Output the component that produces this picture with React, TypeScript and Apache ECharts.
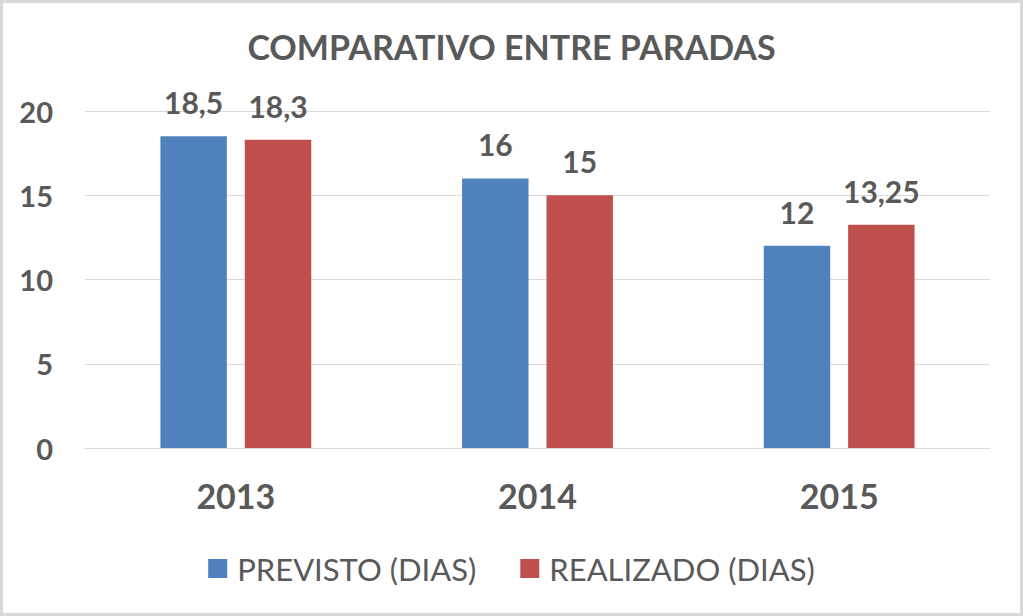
import React, { useEffect, useRef } from "react";
import * as echarts from "echarts";

const categories = ["2013", "2014", "2015"];
const previsto = [18.5, 16, 12];
const realizado = [18.3, 15, 13.25];
const seriesNames = ["PREVISTO (DIAS)", "REALIZADO (DIAS)"];
const yTicks = { min: 0, max: 20, interval: 5 };

const FONT = "Lato";
const TXT = "#595959";

const fmt = (v: number) => String(v).replace(".", ",");

export default function App() {
  const ref = useRef<HTMLDivElement>(null);
  useEffect(() => {
    const chart = echarts.init(ref.current!, null, { renderer: "svg" });
    const label = {
      show: true,
      position: "top",
      distance: 19,
      color: TXT,
      fontFamily: FONT,
      fontWeight: "bold",
      fontSize: 30,
      formatter: (p: any) => fmt(p.value),
    };
    chart.setOption({
      animation: false,
      backgroundColor: "#ffffff",
      textStyle: { fontFamily: FONT },
      title: {
        text: "COMPARATIVO ENTRE PARADAS",
        left: "center",
        top: 24,
        textStyle: { color: TXT, fontFamily: FONT, fontWeight: "bold", fontSize: 34 },
      },
      graphic: [
        {
          type: "rect",
          shape: { x: 1.5, y: 1.5, width: 1020, height: 613 },
          style: { fill: "none", stroke: "#d9d9d9", lineWidth: 3 },
          silent: true,
        },
      ],
      legend: {
        bottom: 27,
        left: "center",
        itemWidth: 19,
        itemHeight: 19,
        itemGap: 44,
        icon: "rect",
        textStyle: { color: TXT, fontFamily: FONT, fontSize: 31, padding: [0, 0, 0, 5] },
        data: seriesNames,
      },
      grid: { left: 85, right: 33, top: 111, bottom: 168 },
      xAxis: {
        type: "category",
        data: categories,
        axisLine: { lineStyle: { color: "#d9d9d9" } },
        axisTick: { show: false },
        axisLabel: { color: TXT, fontFamily: FONT, fontWeight: "bold", fontSize: 34, margin: 30 },
      },
      yAxis: {
        type: "value",
        min: yTicks.min,
        max: yTicks.max,
        interval: yTicks.interval,
        axisLine: { show: false },
        axisTick: { show: false },
        splitLine: { lineStyle: { color: "#d9d9d9", width: 1 } },
        axisLabel: { color: TXT, fontFamily: FONT, fontWeight: "bold", fontSize: 29, margin: 32 },
      },
      series: [
        {
          name: seriesNames[0],
          type: "bar",
          data: previsto,
          itemStyle: { color: "#4F81BD" },
          barGap: "27%",
          barCategoryGap: "50%",
          label,
        },
        {
          name: seriesNames[1],
          type: "bar",
          data: realizado,
          itemStyle: { color: "#C0504D" },
          barGap: "27%",
          barCategoryGap: "50%",
          label,
        },
      ],
    });
    return () => chart.dispose();
  }, []);
  return (
    <div
      ref={ref}
      style={{ position: "fixed", left: 0, top: 0, width: 1023, height: 616 }}
    />
  );
}
